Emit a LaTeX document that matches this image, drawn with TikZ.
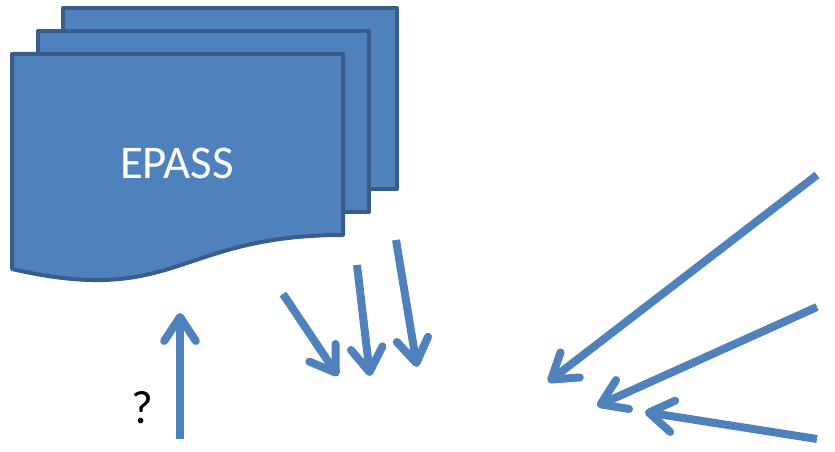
\documentclass[tikz,border=0pt]{standalone}
\usepackage{fontspec}
\setmainfont{Carlito}
\usetikzlibrary{arrows.meta}
\definecolor{pagefill}{HTML}{4F81BD}
\definecolor{pageline}{HTML}{385D8A}
\begin{document}
\begin{tikzpicture}[x=0.03cm, y=-0.03cm,
        page/.style={draw=pageline, fill=pagefill, line width=0.12cm, line join=round},
        arrow/.style={-{Straight Barb[length=0.72cm, width=0.95cm, round]},
                line width=0.24cm, draw=pagefill},
        label/.style={font=\fontsize{40}{48}\selectfont, inner sep=0pt}
    ]
    \useasboundingbox (0,0) rectangle (835,452);

    % stacked pages
    \draw[page] (63,8) rectangle (397,189);
    \draw[page] (38,31) rectangle (369,212);
    \draw[page] (12,54) -- (343,54) -- (343,235)
        .. controls (177,235) and (177,307) .. (12,269) -- cycle;
    \node[label, text=white] (epass) at (177,163) {EPASS};
    \node[label] (query) at (142,408) {?};

    \coordinate (up-s) at (180,439);
    \coordinate (up-e) at (180,313);
    \coordinate (d1-s) at (283,294);
    \coordinate (d1-e) at (338,376);
    \coordinate (d2-s) at (357,265);
    \coordinate (d2-e) at (370,376);
    \coordinate (d3-s) at (396,240);
    \coordinate (d3-e) at (417,367);
    \coordinate (l1-s) at (817,175);
    \coordinate (l1-e) at (548,382);
    \coordinate (l2-s) at (817,307);
    \coordinate (l2-e) at (597,406);
    \coordinate (l3-s) at (817,439);
    \coordinate (l3-e) at (645,412);

    \draw[arrow] (up-s) -- (up-e);
    \draw[arrow] (d1-s) -- (d1-e);
    \draw[arrow] (d2-s) -- (d2-e);
    \draw[arrow] (d3-s) -- (d3-e);
    \draw[arrow] (l1-s) -- (l1-e);
    \draw[arrow] (l2-s) -- (l2-e);
    \draw[arrow] (l3-s) -- (l3-e);
\end{tikzpicture}
\end{document}
